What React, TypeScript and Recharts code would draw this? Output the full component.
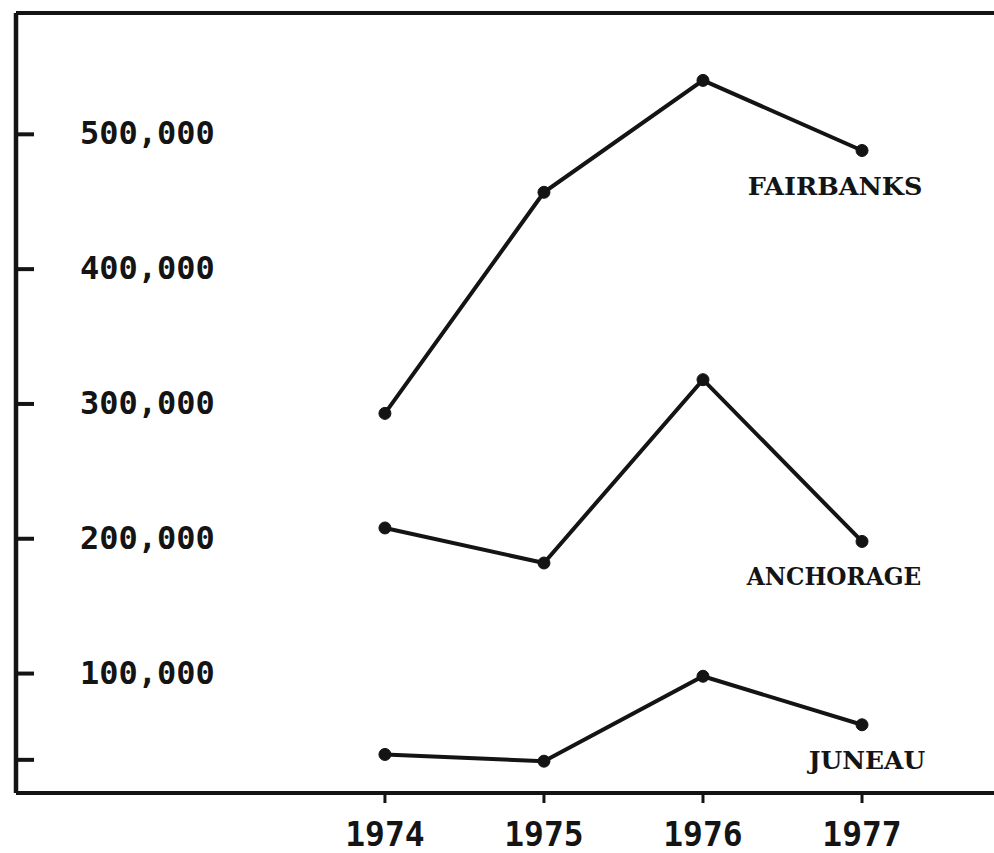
import { LineChart, Line, XAxis, YAxis, ReferenceLine } from "recharts";

const years = [1974, 1975, 1976, 1977];
const fairbanks = [293000, 457000, 540000, 488000];
const anchorage = [208000, 182000, 318000, 198000];
const juneau = [40000, 35000, 98000, 62000];
const yTicks = [36000, 100000, 200000, 300000, 400000, 500000];

const series = [
  { key: "fairbanks", name: "FAIRBANKS", dx: -27 },
  { key: "anchorage", name: "ANCHORAGE", dx: -28 },
  { key: "juneau", name: "JUNEAU", dx: 5 },
];

const data = years.map((year, i) => ({
  year,
  fairbanks: fairbanks[i],
  anchorage: anchorage[i],
  juneau: juneau[i],
}));

const ink = "#141414";
const yMax = 590000;

function fmt(v: number) {
  if (v < 100000) return "";
  return v.toLocaleString("en-US");
}

function YTick(props: any) {
  const { x, y, payload } = props;
  return (
    <g>
      <line x1={x} x2={x + 18} y1={y} y2={y} stroke={ink} strokeWidth={4} />
      <text x={x + 64} y={y + 10} fill={ink} fontFamily="DejaVu Sans Mono" fontWeight="bold" fontSize={32}>
        {fmt(payload.value)}
      </text>
    </g>
  );
}

function XTick(props: any) {
  const { x, y, payload } = props;
  return (
    <text x={x} y={y + 43} textAnchor="middle" fill={ink} fontFamily="DejaVu Sans Mono" fontWeight="bold" fontSize={33}>
      {payload.value}
    </text>
  );
}

function endLabel(name: string, dx: number) {
  return (p: any) => {
    if (p.index !== years.length - 1) return <g />;
    return (
      <text
        x={p.x + dx}
        y={p.y + 44}
        textAnchor="middle"
        fill={ink}
        fontFamily="DejaVu Serif"
        fontWeight="bold"
        fontSize={25}
        textLength={name.length * 19.4}
        lengthAdjust="spacingAndGlyphs"
      >
        {name}
      </text>
    );
  };
}

export default function App() {
  return (
    <div style={{ position: "absolute", left: 0, top: 0, background: "#fff" }}>
      <LineChart width={994} height={853} data={data} margin={{ top: 13, right: 0, bottom: 0, left: 0 }}>
        <XAxis
          dataKey="year"
          type="number"
          domain={[1971.68, 1977.83]}
          ticks={years}
          height={60}
          axisLine={{ stroke: ink, strokeWidth: 4 }}
          tickLine={{ stroke: ink, strokeWidth: 3 }}
          tickSize={10}
          tickMargin={0}
          tick={<XTick />}
        />
        <YAxis
          type="number"
          domain={[11400, yMax]}
          ticks={yTicks}
          width={16}
          axisLine={{ stroke: ink, strokeWidth: 4.5 }}
          tickLine={false}
          tickSize={0}
          tickMargin={0}
          tick={<YTick />}
        />
        <ReferenceLine y={yMax} stroke={ink} strokeWidth={4} />
        {series.map((s) => (
          <Line
            key={s.key}
            dataKey={s.key}
            stroke={ink}
            strokeWidth={4}
            dot={{ r: 6, fill: ink, stroke: ink, strokeWidth: 1 }}
            label={endLabel(s.name, s.dx)}
            isAnimationActive={false}
          />
        ))}
      </LineChart>
    </div>
  );
}
